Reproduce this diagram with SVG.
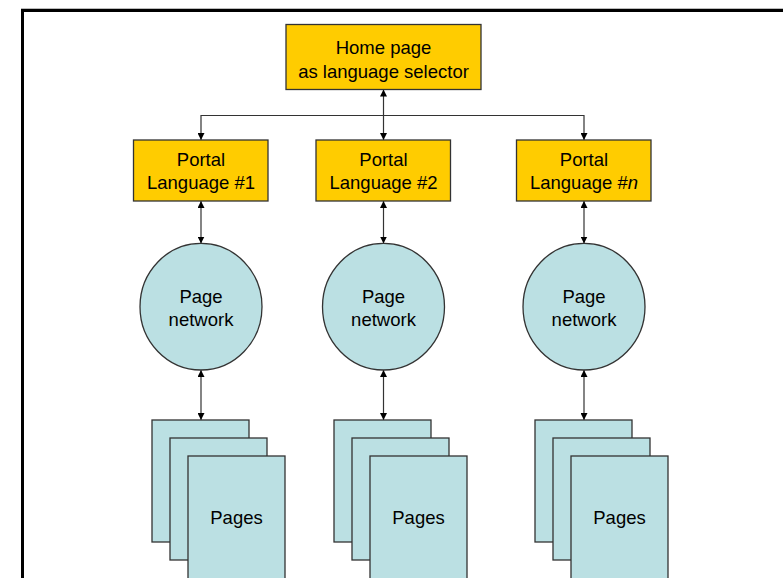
<svg xmlns="http://www.w3.org/2000/svg" width="783" height="578" viewBox="0 0 783 578">
  <style>
    .box { fill: #FFCC00; stroke: #333333; stroke-width: 1.3; }
    .net { fill: #BBE0E3; stroke: #333333; stroke-width: 1.3; }
    .page { fill: #BBE0E3; stroke: #333333; stroke-width: 1.3; }
    .lbl { font-family: "Liberation Sans", Arial, sans-serif; font-size: 18.5px; fill: #000000; text-anchor: middle; }
    .conn { fill: none; stroke: #333333; stroke-width: 1.2; }
  </style>
  <defs>
    <marker id="arrow" viewBox="0 0 10 10" refX="10" refY="5" markerWidth="7" markerHeight="7" markerUnits="userSpaceOnUse" orient="auto-start-reverse">
      <path d="M0,0 L10,5 L0,10 Z" fill="#000000"/>
    </marker>
  </defs>

  <rect width="783" height="578" fill="#FFFFFF"/>

  <!-- outer frame -->
  <g id="frame">
    <line x1="21" y1="8.5" x2="783" y2="8.5" stroke="#BBBBBB" stroke-width="1"/>
    <path d="M22.5,578 L22.5,10.5 L783,10.5" fill="none" stroke="#000000" stroke-width="3"/>
  </g>

  <!-- connectors -->
  <g id="connectors">
    <line class="conn" x1="383.5" y1="89.5" x2="383.5" y2="140" marker-start="url(#arrow)" marker-end="url(#arrow)"/>
    <polyline class="conn" points="201,140 201,115.5 584,115.5 584,140" marker-start="url(#arrow)" marker-end="url(#arrow)"/>
    <line class="conn" x1="201" y1="201" x2="201" y2="243.5" marker-start="url(#arrow)" marker-end="url(#arrow)"/>
    <line class="conn" x1="383.5" y1="201" x2="383.5" y2="243.5" marker-start="url(#arrow)" marker-end="url(#arrow)"/>
    <line class="conn" x1="584" y1="201" x2="584" y2="243.5" marker-start="url(#arrow)" marker-end="url(#arrow)"/>
    <line class="conn" x1="201" y1="370" x2="201" y2="420" marker-start="url(#arrow)" marker-end="url(#arrow)"/>
    <line class="conn" x1="383.5" y1="370" x2="383.5" y2="420" marker-start="url(#arrow)" marker-end="url(#arrow)"/>
    <line class="conn" x1="584" y1="370" x2="584" y2="420" marker-start="url(#arrow)" marker-end="url(#arrow)"/>
  </g>

  <g id="home">
    <rect class="box" x="286" y="24.5" width="195" height="65"/>
    <text class="lbl" x="383.5" y="54">Home page</text>
    <text class="lbl" x="383.5" y="78">as language selector</text>
  </g>

  <g id="portal-1">
    <rect class="box" x="133.5" y="140" width="134.5" height="61"/>
    <text class="lbl" x="201" y="166">Portal</text>
    <text class="lbl" x="201" y="189">Language #1</text>
  </g>
  <g id="portal-2">
    <rect class="box" x="316" y="140" width="134.5" height="61"/>
    <text class="lbl" x="383.5" y="166">Portal</text>
    <text class="lbl" x="383.5" y="189">Language #2</text>
  </g>
  <g id="portal-n">
    <rect class="box" x="516.5" y="140" width="134.5" height="61"/>
    <text class="lbl" x="584" y="166">Portal</text>
    <text class="lbl" x="584" y="189">Language #<tspan font-style="italic">n</tspan></text>
  </g>

  <g id="network-1">
    <ellipse class="net" cx="201" cy="306.7" rx="61" ry="63.3"/>
    <text class="lbl" x="201" y="303">Page</text>
    <text class="lbl" x="201" y="326">network</text>
  </g>
  <g id="network-2">
    <ellipse class="net" cx="383.5" cy="306.7" rx="61" ry="63.3"/>
    <text class="lbl" x="383.5" y="303">Page</text>
    <text class="lbl" x="383.5" y="326">network</text>
  </g>
  <g id="network-n">
    <ellipse class="net" cx="584" cy="306.7" rx="61" ry="63.3"/>
    <text class="lbl" x="584" y="303">Page</text>
    <text class="lbl" x="584" y="326">network</text>
  </g>

  <g id="pages-1">
    <rect class="page" x="152" y="420" width="97" height="122"/>
    <rect class="page" x="170" y="438" width="97" height="122"/>
    <rect class="page" x="188" y="456" width="97" height="130"/>
    <text class="lbl" x="236.5" y="524">Pages</text>
  </g>
  <g id="pages-2">
    <rect class="page" x="334" y="420" width="97" height="122"/>
    <rect class="page" x="352" y="438" width="97" height="122"/>
    <rect class="page" x="370" y="456" width="97" height="130"/>
    <text class="lbl" x="418.5" y="524">Pages</text>
  </g>
  <g id="pages-n">
    <rect class="page" x="535" y="420" width="97" height="122"/>
    <rect class="page" x="553" y="438" width="97" height="122"/>
    <rect class="page" x="571" y="456" width="97" height="130"/>
    <text class="lbl" x="619.5" y="524">Pages</text>
  </g>
</svg>
